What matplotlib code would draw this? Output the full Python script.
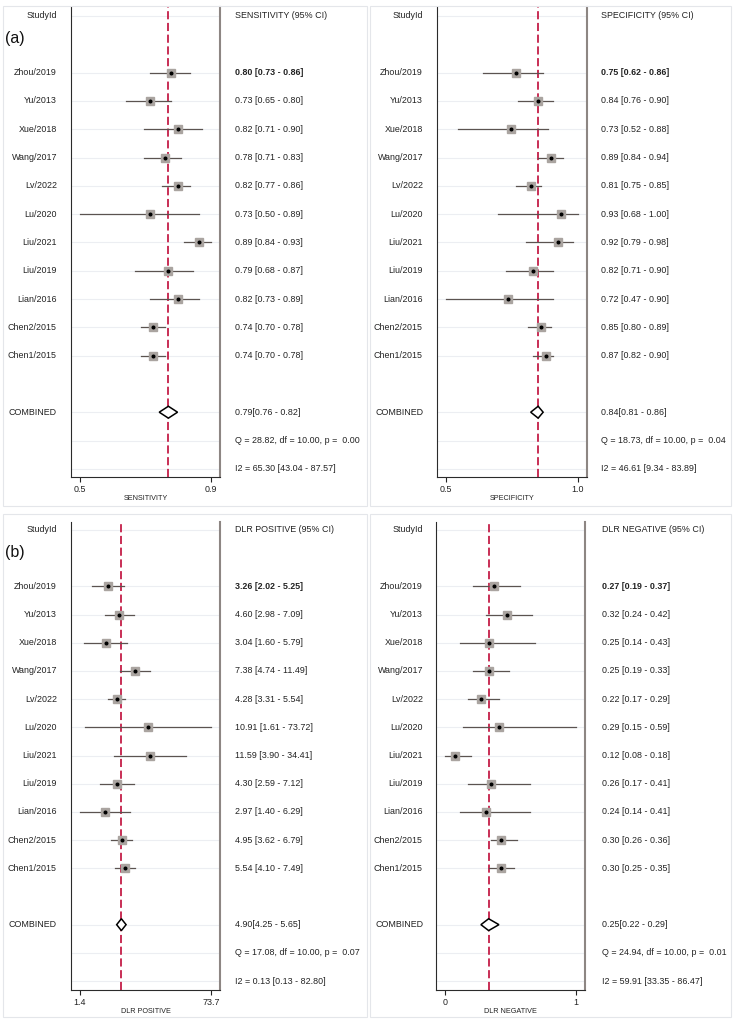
import matplotlib
matplotlib.use('Agg')
import matplotlib.pyplot as plt
import matplotlib.transforms as mtrans
from matplotlib.patches import Polygon, Rectangle
from matplotlib.ticker import NullLocator

plt.rcParams['font.family'] = ['Liberation Sans', 'DejaVu Sans']

study_ids = ['Zhou/2019', 'Yu/2013', 'Xue/2018', 'Wang/2017', 'Lv/2022', 'Lu/2020',
             'Liu/2021', 'Liu/2019', 'Lian/2016', 'Chen2/2015', 'Chen1/2015']

sens_est = [0.80, 0.73, 0.82, 0.78, 0.82, 0.73, 0.89, 0.79, 0.82, 0.74, 0.74]
sens_lo = [0.73, 0.65, 0.71, 0.71, 0.77, 0.50, 0.84, 0.68, 0.73, 0.70, 0.70]
sens_hi = [0.86, 0.80, 0.90, 0.83, 0.86, 0.89, 0.93, 0.87, 0.89, 0.78, 0.78]
sens_comb = [0.79, 0.76, 0.82]
sens_q = [28.82, 10.00, 0.00]
sens_i2 = [65.30, 43.04, 87.57]

spec_est = [0.75, 0.84, 0.73, 0.89, 0.81, 0.93, 0.92, 0.82, 0.72, 0.85, 0.87]
spec_lo = [0.62, 0.76, 0.52, 0.84, 0.75, 0.68, 0.79, 0.71, 0.47, 0.80, 0.82]
spec_hi = [0.86, 0.90, 0.88, 0.94, 0.85, 1.00, 0.98, 0.90, 0.90, 0.89, 0.90]
spec_comb = [0.84, 0.81, 0.86]
spec_q = [18.73, 10.00, 0.04]
spec_i2 = [46.61, 9.34, 83.89]

dlrp_est = [3.26, 4.60, 3.04, 7.38, 4.28, 10.91, 11.59, 4.30, 2.97, 4.95, 5.54]
dlrp_lo = [2.02, 2.98, 1.60, 4.74, 3.31, 1.61, 3.90, 2.59, 1.40, 3.62, 4.10]
dlrp_hi = [5.25, 7.09, 5.79, 11.49, 5.54, 73.72, 34.41, 7.12, 6.29, 6.79, 7.49]
dlrp_comb = [4.90, 4.25, 5.65]
dlrp_q = [17.08, 10.00, 0.07]
dlrp_i2 = [0.13, 0.13, 82.80]

dlrn_est = [0.27, 0.32, 0.25, 0.25, 0.22, 0.29, 0.12, 0.26, 0.24, 0.30, 0.30]
dlrn_lo = [0.19, 0.24, 0.14, 0.19, 0.17, 0.15, 0.08, 0.17, 0.14, 0.26, 0.25]
dlrn_hi = [0.37, 0.42, 0.43, 0.33, 0.29, 0.59, 0.18, 0.41, 0.41, 0.36, 0.35]
dlrn_comb = [0.25, 0.22, 0.29]
dlrn_q = [24.94, 10.00, 0.01]
dlrn_i2 = [59.91, 33.35, 86.47]

W, H = 734, 1023
fig = plt.figure(figsize=(W / 100, H / 100), dpi=100)
fig.patch.set_facecolor('white')

TXT = 6.4
SQ_COL = '#aaa4a0'
CI_COL = '#5b5350'
RED = '#c41e48'


def fx(px):
    return px / W


def fy(py):
    return 1 - py / H


def panel(left, right, top, bottom, row0, step, lab_x, txt_x,
          est, lo, hi, comb, q, i2, name, tick_fmt, log=False):
    ax = fig.add_axes([fx(left), fy(bottom), fx(right) - fx(left), fy(top) - fy(bottom)])
    y_top = (top - row0) / step
    y_bot = (bottom - row0) / step
    ax.set_ylim(y_bot, y_top)

    xmin, xmax = min(lo), max(hi)
    if log:
        ax.set_xscale('log')
        import math
        a, b = math.log(xmin), math.log(xmax)
        pad = (b - a) * 0.068
        ax.set_xlim(math.exp(a - pad), math.exp(b + pad))
    else:
        pad = (xmax - xmin) * 0.068
        ax.set_xlim(xmin - pad, xmax + pad)
    ax.set_xticks([xmin, xmax])
    ax.set_xticklabels([tick_fmt % xmin, tick_fmt % xmax])
    ax.xaxis.set_minor_locator(NullLocator())
    ax.set_yticks([])
    ax.tick_params(axis='x', length=3.5, width=0.8, pad=2, labelsize=TXT, colors='#222222')
    ax.set_xlabel(name, fontsize=5.2, labelpad=1, color='#222222')

    for s in ['top']:
        ax.spines[s].set_visible(False)
    ax.spines['left'].set_color('#2b2b2b')
    ax.spines['left'].set_linewidth(0.8)
    ax.spines['bottom'].set_color('#2b2b2b')
    ax.spines['bottom'].set_linewidth(0.8)
    ax.spines['right'].set_color('#8d8683')
    ax.spines['right'].set_linewidth(1.5)

    n = len(est)
    rows = list(range(2, 2 + n))
    comb_row = n + 3
    grid_rows = [0] + rows + [comb_row, comb_row + 1, comb_row + 2]
    for r in grid_rows:
        ax.axhline(r, color='#eceef2', lw=0.8, zorder=0)

    ax.axvline(comb[0], color=RED, lw=1.3, ls=(0, (4.5, 2)), zorder=1)

    for r, e, l, h in zip(rows, est, lo, hi):
        ax.plot([l, h], [r, r], color=CI_COL, lw=0.9, zorder=2)
        ax.plot(e, r, 's', ms=5.6, mfc=SQ_COL, mec=SQ_COL, zorder=3)
        ax.plot(e, r, 'o', ms=1.9, color='black', zorder=4)

    dh = 0.21
    dia = Polygon([(comb[1], comb_row), (comb[0], comb_row - dh),
                   (comb[2], comb_row), (comb[0], comb_row + dh)],
                  closed=True, fc='white', ec='black', lw=1.1, zorder=4)
    ax.add_patch(dia)

    tr = mtrans.blended_transform_factory(fig.transFigure, ax.transData)
    ax.text(fx(lab_x), 0, 'StudyId', transform=tr, ha='right', va='center',
            fontsize=TXT, color='#222222')
    ax.text(fx(txt_x), 0, name + ' (95% CI)', transform=tr, ha='left', va='center',
            fontsize=TXT, color='#222222')
    for k, (r, sid, e, l, h) in enumerate(zip(rows, study_ids, est, lo, hi)):
        ax.text(fx(lab_x), r, sid, transform=tr, ha='right', va='center',
                fontsize=TXT, color='#222222')
        ax.text(fx(txt_x), r, '%.2f [%.2f - %.2f]' % (e, l, h), transform=tr,
                ha='left', va='center', fontsize=TXT, color='#222222',
                fontweight='bold' if k == 0 else 'normal')
    ax.text(fx(lab_x), comb_row, 'COMBINED', transform=tr, ha='right', va='center',
            fontsize=TXT, color='#222222')
    ax.text(fx(txt_x), comb_row, '%.2f[%.2f - %.2f]' % tuple(comb), transform=tr,
            ha='left', va='center', fontsize=TXT, color='#222222')
    ax.text(fx(txt_x), comb_row + 1, 'Q = %.2f, df = %.2f, p =  %.2f' % tuple(q),
            transform=tr, ha='left', va='center', fontsize=TXT, color='#222222')
    ax.text(fx(txt_x), comb_row + 2, 'I2 = %.2f [%.2f - %.2f]' % tuple(i2),
            transform=tr, ha='left', va='center', fontsize=TXT, color='#222222')
    return ax


# panel frames
for (x0, y0, x1, y1) in [(3, 6, 367, 506), (370, 6, 731, 506),
                         (3, 514, 367, 1017), (370, 514, 731, 1017)]:
    fig.add_artist(Rectangle((fx(x0), fy(y1)), fx(x1) - fx(x0), fy(y0) - fy(y1),
                             transform=fig.transFigure, fill=False,
                             ec='#e4e6ea', lw=0.8))

panel(71, 220, 7, 477, 16, 28.3, 57, 235,
      sens_est, sens_lo, sens_hi, sens_comb, sens_q, sens_i2, 'SENSITIVITY', '%.1f')
panel(437, 587, 7, 477, 16, 28.3, 423, 601,
      spec_est, spec_lo, spec_hi, spec_comb, spec_q, spec_i2, 'SPECIFICITY', '%.1f')
panel(71, 220, 522, 990, 530, 28.19, 57, 235,
      dlrp_est, dlrp_lo, dlrp_hi, dlrp_comb, dlrp_q, dlrp_i2, 'DLR POSITIVE', '%.1f', log=True)
panel(436, 585, 522, 990, 530, 28.19, 423, 602,
      dlrn_est, dlrn_lo, dlrn_hi, dlrn_comb, dlrn_q, dlrn_i2, 'DLR NEGATIVE', '%.0f')

fig.text(fx(5), fy(38), '(a)', fontsize=11.5, ha='left', va='center', color='#111111')
fig.text(fx(5), fy(553), '(b)', fontsize=11.5, ha='left', va='center', color='#111111')

fig.savefig('out.png', dpi=100)
